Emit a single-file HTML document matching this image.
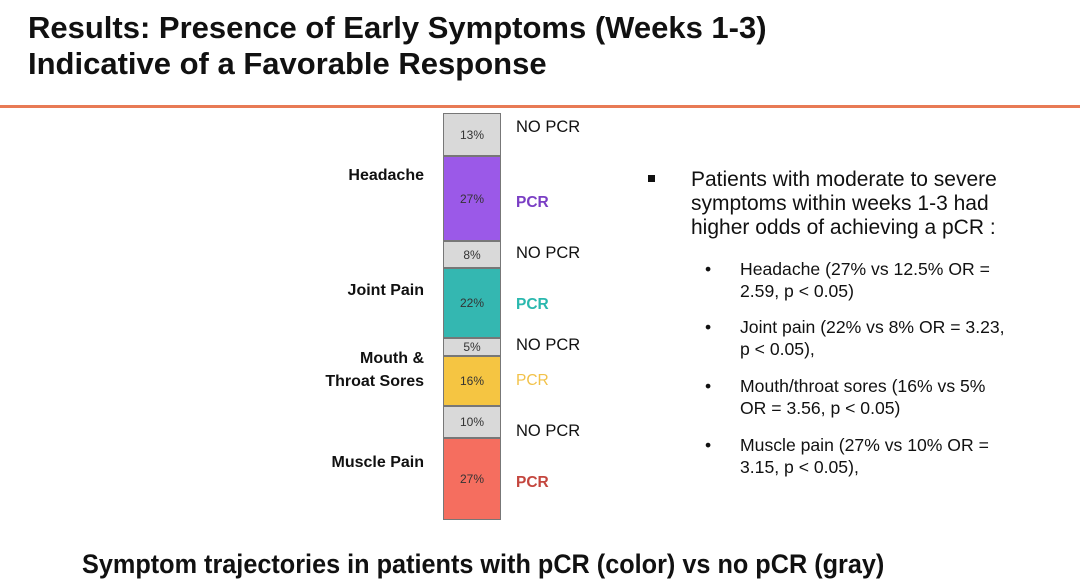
<!DOCTYPE html>
<html><head><style>
body{margin:0;width:1080px;height:587px;background:#fff;position:relative;overflow:hidden;font-family:"Liberation Sans",sans-serif}
.a{position:absolute;white-space:nowrap}
.t{font-weight:bold;font-size:31px;color:#111;left:28px;line-height:36px}
.seg{position:absolute;left:443px;width:58px;border:1px solid #777;box-sizing:border-box;font-size:12px;color:#333;display:flex;align-items:center;justify-content:center}
.lbl{font-weight:bold;font-size:16px;color:#111;text-align:right;right:656px;line-height:23px}
.np{left:516px;font-size:16.5px;color:#111}
.p{left:516px;font-size:15.5px;font-weight:bold}
.r{font-size:21px;color:#111;line-height:24px}
.s{font-size:17.6px;color:#111;line-height:22px}
</style></head><body>
<div class="a t" style="top:10px">Results: Presence of Early Symptoms (Weeks 1-3)</div>
<div class="a t" style="top:46px">Indicative of a Favorable Response</div>
<div class="a" style="left:0;top:105px;width:1080px;height:3px;background:#e87a55"></div>

<div class="seg" style="top:113px;height:43px;background:#d9d9d9">13%</div>
<div class="seg" style="top:156px;height:85px;background:#9b59e8">27%</div>
<div class="seg" style="top:241px;height:27px;background:#d9d9d9">8%</div>
<div class="seg" style="top:268px;height:70px;background:#34b7b1">22%</div>
<div class="seg" style="top:338px;height:18px;background:#d9d9d9">5%</div>
<div class="seg" style="top:356px;height:50px;background:#f5c542">16%</div>
<div class="seg" style="top:406px;height:32px;background:#d9d9d9">10%</div>
<div class="seg" style="top:438px;height:82px;background:#f56e5f">27%</div>

<div class="a lbl" style="top:164px">Headache</div>
<div class="a lbl" style="top:279px">Joint Pain</div>
<div class="a lbl" style="top:347px">Mouth &amp;<br>Throat Sores</div>
<div class="a lbl" style="top:451px">Muscle Pain</div>

<div class="a np" style="top:118px">NO PCR</div>
<div class="a p" style="top:194px;color:#7a3ec4">PCR</div>
<div class="a np" style="top:244px">NO PCR</div>
<div class="a p" style="top:296px;color:#2ab8ae">PCR</div>
<div class="a np" style="top:336px">NO PCR</div>
<div class="a p" style="top:372px;color:#f2c24a;font-weight:normal">PCR</div>
<div class="a np" style="top:422px">NO PCR</div>
<div class="a p" style="top:474px;color:#c4463e">PCR</div>

<div class="a" style="left:648px;top:175px;width:7px;height:7px;background:#111"></div>
<div class="a r" style="left:691px;top:168px">Patients with moderate to severe<br>symptoms within weeks 1-3 had<br>higher odds of achieving a pCR :</div>
<div class="a s" style="left:705px;top:258px">•</div>
<div class="a s" style="left:740px;top:258px">Headache (27% vs 12.5% OR =<br>2.59, p &lt; 0.05)</div>
<div class="a s" style="left:705px;top:316px">•</div>
<div class="a s" style="left:740px;top:316px">Joint pain (22% vs 8% OR = 3.23,<br>p &lt; 0.05),</div>
<div class="a s" style="left:705px;top:375px">•</div>
<div class="a s" style="left:740px;top:375px">Mouth/throat sores (16% vs 5%<br>OR = 3.56, p &lt; 0.05)</div>
<div class="a s" style="left:705px;top:434px">•</div>
<div class="a s" style="left:740px;top:434px">Muscle pain (27% vs 10% OR =<br>3.15, p &lt; 0.05),</div>

<div class="a" style="left:82px;top:549px;font-size:27px;font-weight:bold;color:#111;transform:scaleX(0.935);transform-origin:left">Symptom trajectories in patients with pCR (color) vs no pCR (gray)</div>
</body></html>
